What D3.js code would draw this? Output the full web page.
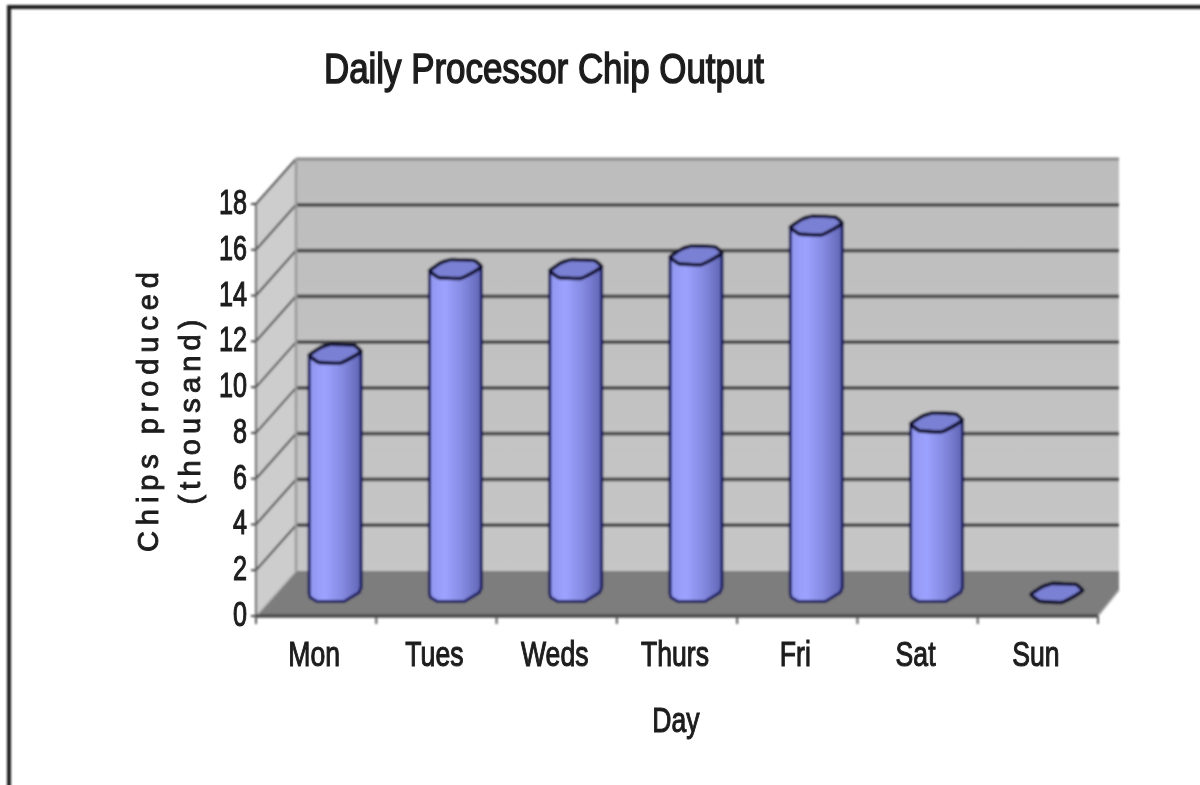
<!DOCTYPE html>
<html><head><meta charset="utf-8">
<script src="https://cdnjs.cloudflare.com/ajax/libs/d3/7.8.5/d3.min.js"></script>
<style>html,body{margin:0;padding:0;background:#fff}svg{display:block}</style>
</head><body><svg id="c" width="1200" height="785"></svg>
<script>
const days = ["Mon","Tues","Weds","Thurs","Fri","Sat","Sun"];
const output = [10.5,14.2,14.2,14.8,16.1,7.5,0.05];
const yTicks = [0,2,4,6,8,10,12,14,16,18];
const titleText = "Daily Processor Chip Output";
const xTitle = "Day";
const yTitle = ["Chips produced","(thousand)"];

const svg = d3.select("#c");
const x = d3.scaleBand().domain(days).range([256,1098]);
const y = d3.scaleLinear().domain([0,18]).range([616,204]);
const depth = {dx:40, dy:-45};
const back = p => [p[0]+depth.dx, p[1]+depth.dy];
const mid = p => [p[0]+depth.dx*0.5, p[1]+depth.dy*0.5];
const line = d3.line();
const defs = svg.append("defs");
defs.append("filter").attr("id","soft").attr("x","-5%").attr("y","-5%").attr("width","110%").attr("height","110%")
  .append("feGaussianBlur").attr("stdDeviation",0.9);
defs.append("filter").attr("id","softT").attr("x","-5%").attr("y","-20%").attr("width","110%").attr("height","140%")
  .append("feGaussianBlur").attr("stdDeviation",0.7);
const wall = defs.append("linearGradient").attr("id","wall").attr("x1",0).attr("x2",0).attr("y1",0).attr("y2",1);
wall.append("stop").attr("offset",0).attr("stop-color","#bdbdbd");
wall.append("stop").attr("offset",1).attr("stop-color","#c6c6c6");
const barG = defs.append("linearGradient").attr("id","bar").attr("x1",0).attr("x2",1).attr("y1",0).attr("y2",0);
[[0,"#9096ee"],[0.3,"#9ca2ff"],[0.65,"#8489e0"],[1,"#6065b4"]].forEach(s=>barG.append("stop").attr("offset",s[0]).attr("stop-color",s[1]));

const g = svg.append("g").attr("filter","url(#soft)");
g.append("path").attr("d",line([[9,790],[9,7],[1205,7]])).attr("fill","none").attr("stroke","#1c1c1c").attr("stroke-width",4);

const x0=x.range()[0], x1=x.range()[1], y0=y(0), yT=y(18);
const wallRight = x1 + 21;
const bl = back([x0,y0]), tl = back([x0,yT]);
g.append("path").attr("d",line([bl,tl,[wallRight,tl[1]],[wallRight,bl[1]]])+"Z").attr("fill","url(#wall)");
g.append("path").attr("d",line([[x0,y0],[x0,yT],tl,bl])+"Z").attr("fill","#cdcdcd");
g.append("path").attr("d",line([[x0,y0],bl,[wallRight,bl[1]],[wallRight,y0-26],[x1,y0]])+"Z").attr("fill","#7d7d7d");
yTicks.filter(t=>t>0).forEach(t=>{
  const b = back([x0,y(t)]);
  g.append("path").attr("d",line([[x0,y(t)],b])).attr("fill","none").attr("stroke","#555").attr("stroke-width",2.2);
  g.append("path").attr("d",line([b,[wallRight,b[1]]])).attr("fill","none")
   .attr("stroke",t==18?"#8a8a8a":"#484848").attr("stroke-width",t==18?3:3.8);
});
g.append("path").attr("d",line([tl,bl])).attr("stroke","#9a9a9a").attr("stroke-width",2.5);
g.append("path").attr("d",line([[x0,y0],bl])).attr("stroke","#b5b5b5").attr("stroke-width",1.5);
g.append("path").attr("d",line([[x0,yT],[x0,y0]])).attr("stroke","#666").attr("stroke-width",2);
g.append("path").attr("d",line([[x0,y0],[x1,y0]])).attr("stroke","#4a4a4a").attr("stroke-width",3.5);
g.append("path").attr("d",line([[x1,y0],[wallRight,y0-26]])).attr("stroke","#aaa").attr("stroke-width",1.5);
yTicks.forEach(t=>g.append("path").attr("d",line([[x0-5,y(t)],[x0,y(t)]])).attr("stroke","#444").attr("stroke-width",2));
d3.range(days.length+1).forEach(i=>{const px=x0+i*x.bandwidth();
  g.append("path").attr("d",line([[px,y0],[px,y0+8]])).attr("stroke","#555").attr("stroke-width",2);});

const r = 26;
const cyl = d3.line().curve(d3.curveCardinalClosed.tension(0.7));
days.forEach((d,i)=>{
  const v = output[i];
  const m = mid([x(d)+x.bandwidth()/2, y0]);
  const cx = m[0]-1, base = m[1];
  const top = y(v)-y(0)+base;
  const capPts = cy => [[cx-r,cy+2],[cx-r+9,cy+9],[cx+5,cy+10],[cx+r-7,cy+3],[cx+r,cy-2],[cx+r-7,cy-8],[cx-4,cy-9],[cx-r+12,cy-6]];
  const bodyPts = [[cx+r,top-2],[cx+r,base-6],[cx+r-2,base-1],[cx+9,base+8],[cx-r+8,base+8],[cx-r+1,base+4],[cx-r,base],[cx-r,top+2]];
  if (v>0.5) {
    g.append("path").attr("d",d3.line().curve(d3.curveLinear)(bodyPts)+"Z")
      .attr("fill","url(#bar)").attr("stroke","#15175f").attr("stroke-width",3).attr("stroke-linejoin","round");
  }
  g.append("path").attr("d",cyl(capPts(top)))
    .attr("fill","#7a80d4").attr("stroke","#08082c").attr("stroke-width",3.6);
});

const t = svg.append("g").attr("filter","url(#softT)").attr("fill","#1c1c1c").attr("stroke","#1c1c1c");
const sans = "'Liberation Sans',Arial,sans-serif";
const squeezed = (txt,px,py,size,sx,sw,anchor) => t.append("text").text(txt)
  .attr("transform",`translate(${px},${py}) scale(${sx},1)`).attr("text-anchor",anchor)
  .attr("font-family",sans).attr("font-size",size).attr("stroke-width",sw);
t.append("text").text(titleText).attr("x",544).attr("y",83).attr("text-anchor","middle")
 .attr("font-family",sans).attr("font-size",43).attr("stroke-width",1.5)
 .attr("textLength",440).attr("lengthAdjust","spacingAndGlyphs");
yTicks.forEach(v=>squeezed(v,247,y(v)+10,35,0.72,1.1,"end"));
days.forEach(d=>squeezed(d,x(d)+x.bandwidth()/2-2,666,35,0.76,1.1,"middle"));
squeezed(xTitle,676,732,35,0.76,1.1,"middle");
[[158,412,yTitle[0],280,29],[200,412,yTitle[1],185,29]].forEach(a=>{
  t.append("text").text(a[2]).attr("transform",`translate(${a[0]},${a[1]}) rotate(-90)`).attr("text-anchor","middle")
   .attr("font-family",sans).attr("font-size",a[4]).attr("stroke-width",0.9)
   .attr("textLength",a[3]).attr("lengthAdjust","spacing");
});
</script></body></html>
